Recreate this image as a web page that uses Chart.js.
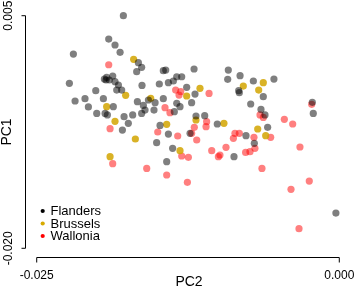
<!DOCTYPE html>
<html>
<head>
<meta charset="utf-8">
<script src="https://cdn.jsdelivr.net/npm/chart.js@4/dist/chart.umd.min.js"></script>
<style>
html,body{margin:0;padding:0;background:#fff;}
#c{display:block;}
</style>
</head>
<body>
<canvas id="c" width="356" height="286"></canvas>
<script>
// ---- data (PC2 = x, PC1 = y) ----
const seriesNames = ["Flanders", "Brussels", "Wallonia"];
const xTicks = [-0.025, 0.000];
const yTicks = [-0.020, 0.005];
const xTitle = "PC2";
const yTitle = "PC1";

const flandersX = [-0.01784,-0.02197,-0.01905,-0.01853,-0.01811,-0.02230,-0.02183,-0.02101,-0.02073,-0.02012,
 -0.02004,-0.01949,-0.01941,-0.01922,-0.01872,-0.01853,-0.01839,-0.01825,-0.01916,-0.01867,
 -0.01778,-0.01792,-0.01743,-0.01707,-0.01660,-0.01633,-0.01674,-0.01630,-0.01668,-0.01619,
 -0.01605,-0.01633,-0.01577,-0.01522,-0.01487,-0.01454,-0.01531,-0.01434,-0.01412,-0.01371,
 -0.01302,-0.01343,-0.01316,-0.01363,-0.01343,-0.01200,-0.01220,-0.01192,-0.01481,-0.01412,
 -0.01509,-0.01377,-0.01426,-0.01184,-0.01112,-0.01008,-0.00917,-0.00922,-0.00820,-0.00710,
 -0.00540,-0.00831,-0.00628,-0.00732,-0.00647,-0.00614,-0.00592,-0.00771,-0.00702,-0.00870,
 -0.00223,-0.00215,-0.00028,-0.01233,-0.01261,-0.01454,-0.01927,-0.01900,-0.01798,-0.01935,
 -0.00826];
const flandersY = [0.00500,0.00088,0.00249,0.00185,0.00106,-0.00227,-0.00417,-0.00392,-0.00481,-0.00306,
 -0.00550,-0.00392,-0.00181,-0.00163,-0.00148,-0.00209,-0.00299,-0.00245,-0.00567,-0.00478,
 -0.00585,-0.00729,-0.00657,-0.00567,-0.00005,-0.00055,-0.00102,-0.00249,-0.00424,-0.00464,
 -0.00514,-0.00550,-0.00406,-0.00435,-0.00234,-0.00392,-0.00514,-0.00084,-0.00220,-0.00202,
 -0.00156,-0.00156,-0.00478,-0.00532,-0.00442,-0.00073,-0.00435,-0.00342,-0.00679,-0.00772,
 -0.00865,-0.00926,-0.01069,-0.00578,-0.00575,-0.00664,-0.00084,-0.00184,-0.00145,-0.00202,
 -0.00181,-0.00306,-0.00370,-0.00449,-0.00507,-0.00567,-0.00700,-0.00790,-0.00872,-0.01015,
 -0.00431,-0.00550,-0.01621,-0.00764,-0.00270,-0.00091,-0.00191,-0.00191,-0.00299,-0.00550,
 -0.00327];

const brusselsX = [-0.01699,-0.01765,-0.01922,-0.01853,-0.01685,-0.01894,-0.01558,-0.01426,-0.01316,
 -0.01261,-0.01151,-0.01184,-0.00953,-0.00793,-0.00666,-0.00628,-0.00674,-0.00608];
const brusselsY = [0.00031,-0.00356,-0.00478,-0.00635,-0.00825,-0.01015,-0.00388,-0.00668,-0.00951,
 -0.00363,-0.00281,-0.00621,-0.00657,-0.00256,-0.00299,-0.00220,-0.00718,-0.00790];

const walloniaX = [-0.01905,-0.01894,-0.01872,-0.01591,-0.01426,-0.01255,-0.01500,-0.01440,-0.01399,
 -0.01352,-0.01324,-0.01310,-0.01076,-0.01198,-0.01178,-0.01220,-0.01096,-0.01101,-0.01335,
 -0.01302,-0.01247,-0.01054,-0.00999,-0.00936,-0.00986,-0.00862,-0.00826,-0.00875,-0.00774,
 -0.00738,-0.00697,-0.00705,-0.00639,-0.00655,-0.00628,-0.00567,-0.00454,-0.00385,-0.00325,
 -0.00248,-0.00399,-0.00333,-0.00228];
const walloniaY = [-0.00027,-0.00714,-0.01090,-0.01141,-0.01212,-0.01291,-0.00750,-0.00489,-0.00542,
 -0.00299,-0.00353,-0.00317,-0.00335,-0.00700,-0.00836,-0.00764,-0.00639,-0.00693,-0.00793,
 -0.01008,-0.01022,-0.00951,-0.01015,-0.00915,-0.00997,-0.00764,-0.00764,-0.00818,-0.00969,
 -0.00962,-0.00926,-0.00807,-0.01141,-0.00567,-0.00593,-0.00807,-0.00614,-0.00664,-0.00911,
 -0.01277,-0.01366,-0.01789,-0.00453];

// ---- styles ----
const pointColors = ["rgba(0,0,0,0.5)", "rgba(210,165,0,0.85)", "rgba(255,0,0,0.5)"];
const legendColors = ["#000000", "#d7aa00", "#ff0000"];
const FONT = '"Liberation Sans", Arial, Helvetica, sans-serif';

function pts(xs, ys){ return xs.map((x,i)=>({x:x, y:ys[i]})); }

const axesPlugin = {
  id: 'rAxes',
  afterDatasetsDraw(chart){
    const ctx = chart.ctx;
    const xs = chart.scales.x, ys = chart.scales.y;
    const ca = chart.chartArea;
    ctx.save();
    ctx.strokeStyle = '#000';
    ctx.fillStyle = '#000';
    ctx.lineWidth = 1;
    // x axis
    const ax = Math.round(ca.bottom) - 0.5;
    const x0 = xs.getPixelForValue(xTicks[0]), x1 = xs.getPixelForValue(xTicks[xTicks.length-1]);
    ctx.beginPath();
    ctx.moveTo(x0, ax); ctx.lineTo(x1, ax);
    xTicks.forEach(v=>{ const p = xs.getPixelForValue(v); ctx.moveTo(p, ax); ctx.lineTo(p, ax+5); });
    ctx.stroke();
    ctx.font = '12px ' + FONT;
    ctx.textAlign = 'center';
    ctx.textBaseline = 'alphabetic';
    xTicks.forEach(v=>{ ctx.fillText(v.toFixed(3), xs.getPixelForValue(v), 278.5); });
    // y axis
    const ay = Math.round(ca.left) + 0.5;
    const y0 = ys.getPixelForValue(yTicks[0]), y1 = ys.getPixelForValue(yTicks[yTicks.length-1]);
    ctx.beginPath();
    ctx.moveTo(ay, y0); ctx.lineTo(ay, y1);
    yTicks.forEach(v=>{ const p = ys.getPixelForValue(v); ctx.moveTo(ay, p); ctx.lineTo(ay-4, p); });
    ctx.stroke();
    yTicks.forEach(v=>{
      const p = ys.getPixelForValue(v);
      ctx.save(); ctx.translate(11.8, p); ctx.rotate(-Math.PI/2);
      ctx.fillText(v.toFixed(3), 0, 0); ctx.restore();
    });
    // titles
    ctx.font = '14px ' + FONT;
    ctx.fillText(xTitle, (x0+x1)/2 + 1, 285.5);
    ctx.save(); ctx.translate(11, (y0+y1)/2); ctx.rotate(-Math.PI/2);
    ctx.fillText(yTitle, 0, 0); ctx.restore();
    // legend
    ctx.font = '13px ' + FONT;
    ctx.textAlign = 'left';
    ctx.textBaseline = 'middle';
    seriesNames.forEach((n,i)=>{
      const yy = 211 + i*12.5;
      ctx.fillStyle = legendColors[i];
      ctx.beginPath(); ctx.arc(42.7, yy, 2.1, 0, Math.PI*2); ctx.fill();
      ctx.fillStyle = '#000';
      ctx.fillText(n, 50.5, yy + 0.5);
    });
    ctx.restore();
  }
};

new Chart(document.getElementById('c'), {
  type: 'scatter',
  data: {
    datasets: [
      {label: seriesNames[0], data: pts(flandersX, flandersY), backgroundColor: pointColors[0]},
      {label: seriesNames[1], data: pts(brusselsX, brusselsY), backgroundColor: pointColors[1]},
      {label: seriesNames[2], data: pts(walloniaX, walloniaY), backgroundColor: pointColors[2]}
    ]
  },
  options: {
    responsive: false,
    animation: false,
    devicePixelRatio: 1,
    layout: {padding: {left: 24.6, right: 4.6, top: 6.4, bottom: 28.4}},
    elements: {point: {radius: 3.6, borderWidth: 0, hoverRadius: 3.6}},
    datasets: {scatter: {clip: false}},
    plugins: {legend: {display: false}, tooltip: {enabled: false}},
    scales: {
      x: {type: 'linear', min: -0.026, max: 0.001, display: false},
      y: {type: 'linear', min: -0.021, max: 0.006, display: false}
    }
  },
  plugins: [axesPlugin]
});
</script>
</body>
</html>
